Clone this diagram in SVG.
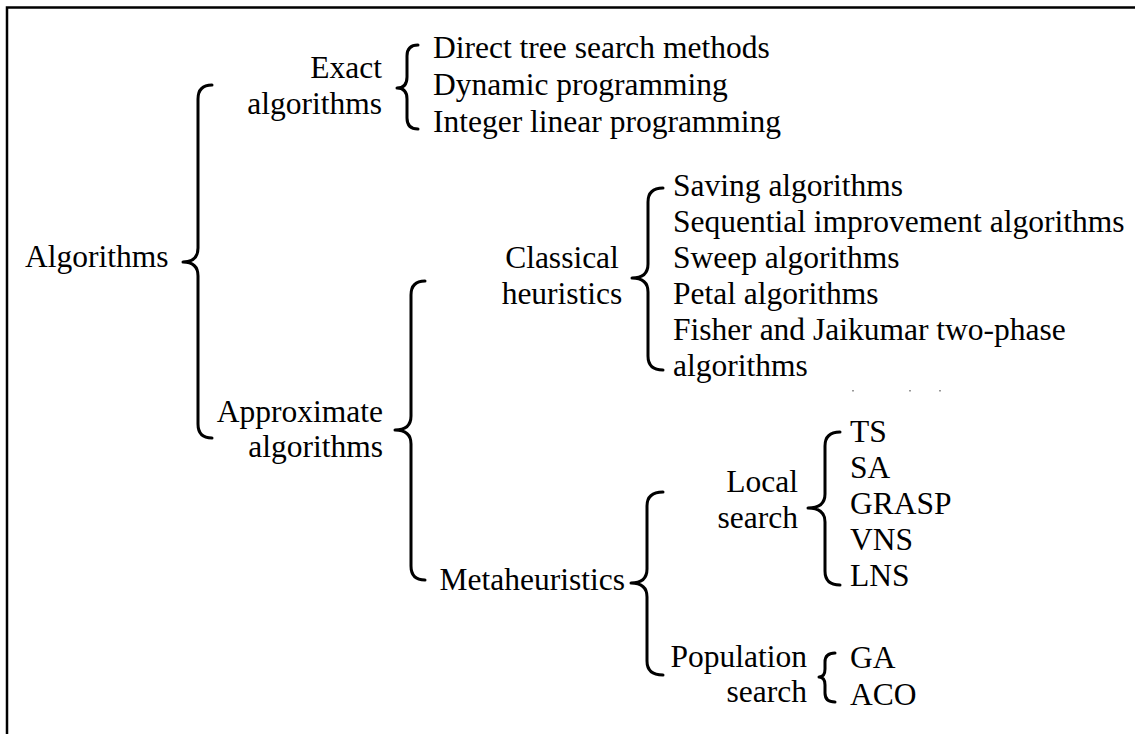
<svg xmlns="http://www.w3.org/2000/svg" width="1135" height="734" viewBox="0 0 1135 734">
  <style>
    .t { font-family: "Liberation Serif", "Times New Roman", serif; font-size: 31.5px; fill: #000; }
    .r { text-anchor: end; }
    .m { text-anchor: middle; }
    .brace { fill: none; stroke: #000; stroke-width: 3; stroke-linecap: round; stroke-linejoin: round; }
    .frame { fill: none; stroke: #000; stroke-width: 2.5; }
  </style>
  <rect width="1135" height="734" fill="#fff"/>

  <!-- frame (top and left edges) -->
  <path class="frame" d="M7 734 V7.5 H1135"/>

  <!-- braces joining each level to its children -->
  <g id="connectors">
    <!-- Algorithms -->
    <path class="brace" d="M212 85 Q198 85 198 99 L198 248 Q198 262 183 262 Q198 262 198 276 L198 424 Q198 438 212 438"/>
    <!-- Exact algorithms -->
    <path class="brace" d="M418 45 Q407 45 407 56 L407 77 Q407 88 397 88 Q407 88 407 99 L407 118 Q407 129 418 129"/>
    <!-- Approximate algorithms -->
    <path class="brace" d="M425 281 Q411 281 411 295 L411 416 Q411 430 395 430 Q411 430 411 444 L411 566 Q411 580 425 580"/>
    <!-- Classical heuristics -->
    <path class="brace" d="M663 188 Q648 188 648 202 L648 264 Q648 278 632 278 Q648 278 648 292 L648 356 Q648 370 663 370"/>
    <!-- Metaheuristics -->
    <path class="brace" d="M663 492 Q647 492 647 506 L647 569 Q647 583 631 583 Q647 583 647 597 L647 661 Q647 675 663 675"/>
    <!-- Local search -->
    <path class="brace" d="M840 432 Q825 432 825 446 L825 494 Q825 508 808 508 Q825 508 825 522 L825 571 Q825 585 840 585"/>
    <!-- Population search -->
    <path class="brace" d="M835 653 Q825 653 825 662 L825 669 Q825 677 819 677 Q825 677 825 685 L825 693 Q825 702 835 702"/>
  </g>

  <g id="algorithms">
    <text class="t" x="25" y="267">Algorithms</text>
  </g>

  <g id="exact">
    <text class="t r" x="382" y="78">Exact</text>
    <text class="t r" x="382" y="114">algorithms</text>
  </g>

  <g id="exact-methods">
    <text class="t" x="433" y="58">Direct tree search methods</text>
    <text class="t" x="433" y="95">Dynamic programming</text>
    <text class="t" x="433" y="132">Integer linear programming</text>
  </g>

  <g id="approximate">
    <text class="t r" x="383" y="422">Approximate</text>
    <text class="t r" x="383" y="457">algorithms</text>
  </g>

  <g id="classical">
    <text class="t m" x="562" y="268">Classical</text>
    <text class="t m" x="562" y="304">heuristics</text>
  </g>

  <g id="classical-methods">
    <text class="t" x="673" y="196">Saving algorithms</text>
    <text class="t" x="673" y="232">Sequential improvement algorithms</text>
    <text class="t" x="673" y="268">Sweep algorithms</text>
    <text class="t" x="673" y="304">Petal algorithms</text>
    <text class="t" x="673" y="340">Fisher and Jaikumar two-phase</text>
    <text class="t" x="673" y="376">algorithms</text>
  </g>

  <!-- faint marks under the last line -->
  <g fill="#999">
    <rect x="852" y="390" width="2" height="1.5"/>
    <rect x="909" y="390" width="2" height="1.5"/>
    <rect x="939" y="390" width="2" height="1.5"/>
  </g>

  <g id="metaheuristics">
    <text class="t r" x="625" y="590">Metaheuristics</text>
  </g>

  <g id="local-search">
    <text class="t r" x="798" y="492">Local</text>
    <text class="t r" x="798" y="528">search</text>
  </g>

  <g id="local-methods">
    <text class="t" x="850" y="442">TS</text>
    <text class="t" x="850" y="478">SA</text>
    <text class="t" x="850" y="514">GRASP</text>
    <text class="t" x="850" y="550">VNS</text>
    <text class="t" x="850" y="586">LNS</text>
  </g>

  <g id="population-search">
    <text class="t r" x="807" y="667">Population</text>
    <text class="t r" x="807" y="702">search</text>
  </g>

  <g id="population-methods">
    <text class="t" x="850" y="668">GA</text>
    <text class="t" x="850" y="705">ACO</text>
  </g>
</svg>
